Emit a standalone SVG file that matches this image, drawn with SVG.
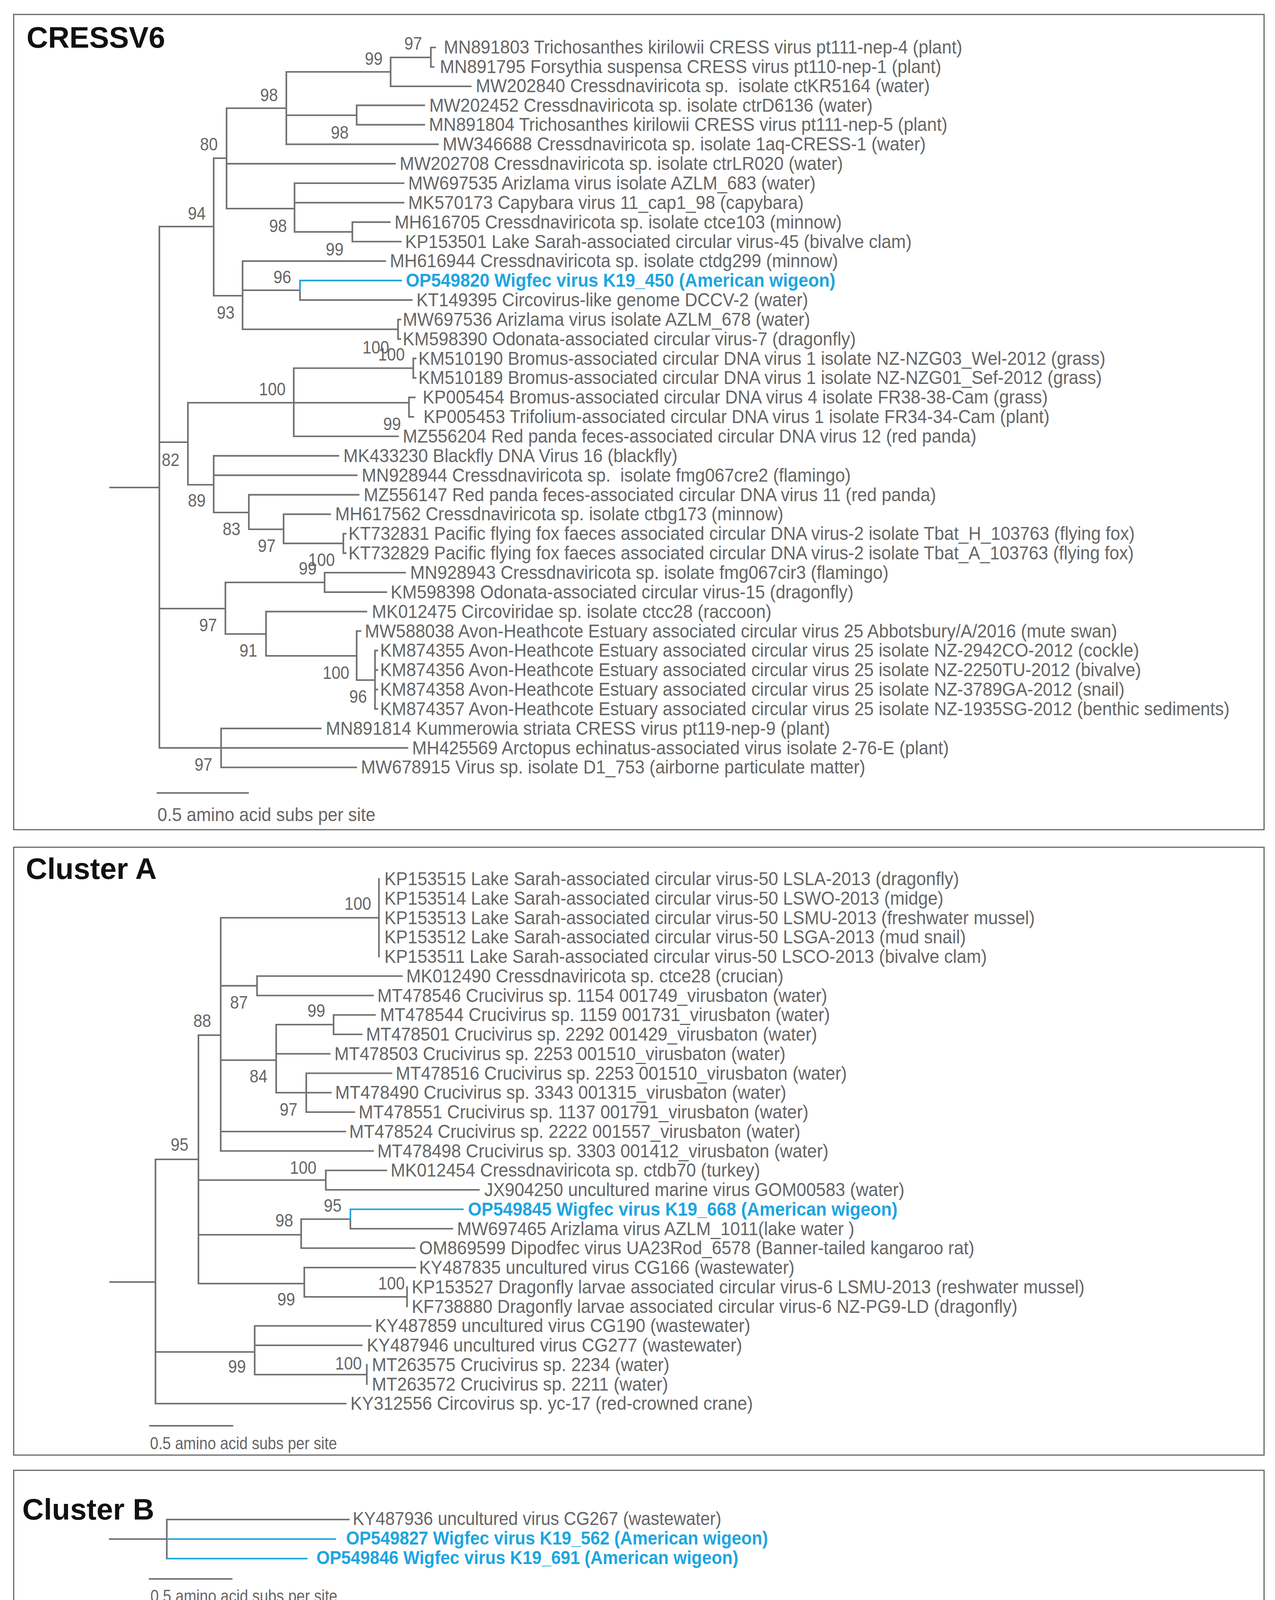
<svg xmlns="http://www.w3.org/2000/svg" width="3264" height="4713" viewBox="0 0 3264 4713">
<style>
.l{font-family:'Liberation Sans',Arial,sans-serif;font-size:49px;fill:#666}
.b{font-family:'Liberation Sans',Arial,sans-serif;font-size:49px;font-weight:bold;fill:#1fa5df}
.s{font-family:'Liberation Sans',Arial,sans-serif;font-size:46px;fill:#666}
.t{font-family:'Liberation Sans',Arial,sans-serif;font-size:76px;font-weight:bold;fill:#111}
.sc{font-family:'Liberation Sans',Arial,sans-serif;font-size:49px;fill:#666}
.sc2{font-family:'Liberation Sans',Arial,sans-serif;font-size:44px;fill:#666}
.fr{fill:none;stroke:#666;stroke-width:3}
.e{fill:none;stroke:#727272;stroke-width:4.2;stroke-linecap:square}
.eb{fill:none;stroke:#1fa5df;stroke-width:4.2;stroke-linecap:square}
</style>
<rect width="3264" height="4713" fill="#fff"/>

<g id="panel-cressv6">
<rect class="fr" x="35" y="37" width="3201" height="2087"/>
<text class="t" x="68" y="122">CRESSV6</text>
<g id="cressv6-connectors">
<path class="e" d="M282,1248H408 M408,580V1914.6 M408,580H547 M408,1132H481 M408,1558H577 M408,1914.6H1043
M547,405V757 M547,405H580 M547,757H621
M580,277V534 M580,277H733 M580,419.1H1011 M580,534H754
M733,184V369.3 M733,184H1000 M733,295H913 M733,369.3H1121
M1000,147V221 M1000,147H1103 M1000,221H1205
M1103,121.5V171.5 M1103,121.5H1114 M1103,171.5H1110
M913,269.6V319.4 M913,269.6H1086 M913,319.4H1086
M754,469V593.6 M754,469H1033 M754,518.8H1033 M754,593.6H902
M902,568.7V618.5 M902,568.7H998 M902,618.5H1026
M621,668.4V843 M621,668.4H986 M621,743H768 M621,843H1019
M768,743V768.1 M768,768.1H1054
M1019,817.9V867.8 M1019,817.9H1025 M1019,867.8H1025
M481,1031V1241 M481,1031H752 M481,1241H547
M752,942.5V1117 M752,942.5H1058 M752,1031H1047 M752,1117H1019
M1058,917.6V967.5 M1058,917.6H1064 M1058,967.5H1064
M1047,1017.3V1067.2 M1047,1017.3H1062 M1047,1067.2H1058
M547,1166.9V1312 M547,1166.9H866 M547,1216.7H913 M547,1312H637
M637,1266.6V1355 M637,1266.6H918 M637,1355H726
M726,1316.4V1391.2 M726,1316.4H845 M726,1391.2H879
M879,1366.3V1416.1 M879,1366.3H885 M879,1416.1H885
M577,1491V1623 M577,1491H831 M577,1623H681
M831,1466V1515.8 M831,1466H1037 M831,1515.8H989
M681,1565.7V1679 M681,1565.7H938 M681,1679H913
M913,1615.5V1741 M913,1615.5H923 M913,1741H960
M960,1665.4V1814.9 M960,1665.4H966 M960,1715.2H966 M960,1765.1H966 M960,1814.9H966
M566,1864.8V1964.5 M566,1864.8H821 M566,1964.5H912"/>
<path class="eb" d="M768,743V718.2H1027"/>
</g>
<g id="cressv6-support" class="s">
<text transform="translate(1035,127) scale(.89,1)">97</text>
<text transform="translate(934,166) scale(.89,1)">99</text>
<text transform="translate(666,259) scale(.89,1)">98</text>
<text transform="translate(847,355) scale(.89,1)">98</text>
<text transform="translate(512,385) scale(.89,1)">80</text>
<text transform="translate(481,562) scale(.89,1)">94</text>
<text transform="translate(689,594) scale(.89,1)">98</text>
<text transform="translate(834,654) scale(.89,1)">99</text>
<text transform="translate(700,725) scale(.89,1)">96</text>
<text transform="translate(555,816) scale(.89,1)">93</text>
<text transform="translate(928,905) scale(.89,1)">100</text>
<text transform="translate(968,923) scale(.89,1)">100</text>
<text transform="translate(663,1012) scale(.89,1)">100</text>
<text transform="translate(981,1101) scale(.89,1)">99</text>
<text transform="translate(414,1193) scale(.89,1)">82</text>
<text transform="translate(481,1297) scale(.89,1)">89</text>
<text transform="translate(570,1370) scale(.89,1)">83</text>
<text transform="translate(660,1413) scale(.89,1)">97</text>
<text transform="translate(789,1449) scale(.89,1)">100</text>
<text transform="translate(765,1471) scale(.89,1)">99</text>
<text transform="translate(510,1616) scale(.89,1)">97</text>
<text transform="translate(613,1681) scale(.89,1)">91</text>
<text transform="translate(826,1738) scale(.89,1)">100</text>
<text transform="translate(894,1799) scale(.89,1)">96</text>
<text transform="translate(498,1973) scale(.89,1)">97</text>
</g>
<g id="cressv6-tips" class="l">
<text id="MN891803" transform="translate(1136,137) scale(.914,1)">MN891803 Trichosanthes kirilowii CRESS virus pt111-nep-4 (plant)</text>
<text id="MN891795" transform="translate(1126,186.5) scale(.914,1)">MN891795 Forsythia suspensa CRESS virus pt110-nep-1 (plant)</text>
<text id="MW202840" transform="translate(1218,236) scale(.914,1)" xml:space="preserve">MW202840 Cressdnaviricota sp.  isolate ctKR5164 (water)</text>
<text id="MW202452" transform="translate(1099,285.55) scale(.914,1)">MW202452 Cressdnaviricota sp. isolate ctrD6136 (water)</text>
<text id="MN891804" transform="translate(1098,335.4) scale(.914,1)">MN891804 Trichosanthes kirilowii CRESS virus pt111-nep-5 (plant)</text>
<text id="MW346688" transform="translate(1133,385.25) scale(.914,1)">MW346688 Cressdnaviricota sp. isolate 1aq-CRESS-1 (water)</text>
<text id="MW202708" transform="translate(1023,435.1) scale(.914,1)">MW202708 Cressdnaviricota sp. isolate ctrLR020 (water)</text>
<text id="MW697535" transform="translate(1045,484.95) scale(.914,1)">MW697535 Arizlama virus isolate AZLM_683 (water)</text>
<text id="MK570173" transform="translate(1045,534.8) scale(.914,1)">MK570173 Capybara virus 11_cap1_98 (capybara)</text>
<text id="MH616705" transform="translate(1010,584.65) scale(.914,1)">MH616705 Cressdnaviricota sp. isolate ctce103 (minnow)</text>
<text id="KP153501" transform="translate(1037,634.5) scale(.914,1)">KP153501 Lake Sarah-associated circular virus-45 (bivalve clam)</text>
<text id="MH616944" transform="translate(998,684.35) scale(.914,1)">MH616944 Cressdnaviricota sp. isolate ctdg299 (minnow)</text>
<text id="OP549820" class="b" transform="translate(1039,734.2) scale(.914,1)">OP549820 Wigfec virus K19_450 (American wigeon)</text>
<text id="KT149395" transform="translate(1066,784.05) scale(.914,1)">KT149395 Circovirus-like genome DCCV-2 (water)</text>
<text id="MW697536" transform="translate(1031,833.9) scale(.914,1)">MW697536 Arizlama virus isolate AZLM_678 (water)</text>
<text id="KM598390" transform="translate(1031,883.75) scale(.914,1)">KM598390 Odonata-associated circular virus-7 (dragonfly)</text>
<text id="KM510190" transform="translate(1071,933.6) scale(.914,1)">KM510190 Bromus-associated circular DNA virus 1 isolate NZ-NZG03_Wel-2012 (grass)</text>
<text id="KM510189" transform="translate(1071,983.45) scale(.914,1)">KM510189 Bromus-associated circular DNA virus 1 isolate NZ-NZG01_Sef-2012 (grass)</text>
<text id="KP005454" transform="translate(1082,1033.3) scale(.914,1)">KP005454 Bromus-associated circular DNA virus 4 isolate FR38-38-Cam (grass)</text>
<text id="KP005453" transform="translate(1084,1083.15) scale(.914,1)">KP005453 Trifolium-associated circular DNA virus 1 isolate FR34-34-Cam (plant)</text>
<text id="MZ556204" transform="translate(1031,1133) scale(.914,1)">MZ556204 Red panda feces-associated circular DNA virus 12 (red panda)</text>
<text id="MK433230" transform="translate(879,1182.85) scale(.914,1)">MK433230 Blackfly DNA Virus 16 (blackfly)</text>
<text id="MN928944" transform="translate(926,1232.7) scale(.914,1)" xml:space="preserve">MN928944 Cressdnaviricota sp.  isolate fmg067cre2 (flamingo)</text>
<text id="MZ556147" transform="translate(931,1282.55) scale(.914,1)">MZ556147 Red panda feces-associated circular DNA virus 11 (red panda)</text>
<text id="MH617562" transform="translate(858,1332.4) scale(.914,1)">MH617562 Cressdnaviricota sp. isolate ctbg173 (minnow)</text>
<text id="KT732831" transform="translate(892,1382.25) scale(.914,1)">KT732831 Pacific flying fox faeces associated circular DNA virus-2 isolate Tbat_H_103763 (flying fox)</text>
<text id="KT732829" transform="translate(892,1432.1) scale(.914,1)">KT732829 Pacific flying fox faeces associated circular DNA virus-2 isolate Tbat_A_103763 (flying fox)</text>
<text id="MN928943" transform="translate(1050,1481.95) scale(.914,1)">MN928943 Cressdnaviricota sp. isolate fmg067cir3 (flamingo)</text>
<text id="KM598398" transform="translate(1000,1531.8) scale(.914,1)">KM598398 Odonata-associated circular virus-15 (dragonfly)</text>
<text id="MK012475" transform="translate(952,1581.65) scale(.914,1)">MK012475 Circoviridae sp. isolate ctcc28 (raccoon)</text>
<text id="MW588038" transform="translate(934,1631.5) scale(.914,1)">MW588038 Avon-Heathcote Estuary associated circular virus 25 Abbotsbury/A/2016 (mute swan)</text>
<text id="KM874355" transform="translate(973,1681.35) scale(.914,1)">KM874355 Avon-Heathcote Estuary associated circular virus 25 isolate NZ-2942CO-2012 (cockle)</text>
<text id="KM874356" transform="translate(973,1731.2) scale(.914,1)">KM874356 Avon-Heathcote Estuary associated circular virus 25 isolate NZ-2250TU-2012 (bivalve)</text>
<text id="KM874358" transform="translate(973,1781.05) scale(.914,1)">KM874358 Avon-Heathcote Estuary associated circular virus 25 isolate NZ-3789GA-2012 (snail)</text>
<text id="KM874357" transform="translate(973,1830.9) scale(.914,1)">KM874357 Avon-Heathcote Estuary associated circular virus 25 isolate NZ-1935SG-2012 (benthic sediments)</text>
<text id="MN891814" transform="translate(834,1880.75) scale(.914,1)">MN891814 Kummerowia striata CRESS virus pt119-nep-9 (plant)</text>
<text id="MH425569" transform="translate(1055,1930.6) scale(.914,1)">MH425569 Arctopus echinatus-associated virus isolate 2-76-E (plant)</text>
<text id="MW678915" transform="translate(924,1980.45) scale(.914,1)">MW678915 Virus sp. isolate D1_753 (airborne particulate matter)</text>
</g>
<g id="cressv6-scale">
<path class="e" d="M403,2030H635"/>
<text class="sc" transform="translate(403,2102) scale(.915,1)">0.5 amino acid subs per site</text>
</g>
</g>

<g id="panel-cluster-a">
<rect class="fr" x="35" y="2169" width="3201" height="1556"/>
<text class="t" x="66" y="2250">Cluster A</text>
<g id="cluster-a-connectors">
<path class="e" d="M282,3282H398 M398,2968V3593.25 M398,2968H508 M398,3461H652 M398,3593.25H885
M508,2650V3286 M508,2650H565 M508,3021H834 M508,3161H771 M508,3286H779
M565,2349.5V2946.5 M565,2349.5H970 M565,2523.6H658 M565,2714H707 M565,2896.75H884 M565,2946.5H955
M970,2250V2449
M658,2498.75V2548.5 M658,2498.75H1029 M658,2548.5H955
M707,2623V2797.25 M707,2623H854 M707,2697.75H844 M707,2797.25H847
M854,2598.25V2648 M854,2598.25H960 M854,2648H926
M784,2747.5V2847 M784,2747.5H1002 M784,2847H907
M834,2996.25V3046 M834,2996.25H989 M834,3046H1226
M771,3121V3195.25 M771,3121H897 M771,3195.25H1061
M897,3121V3145.5 M897,3145.5H1158
M779,3245V3320 M779,3245H1063 M779,3320H1042
M1042,3294.75V3344.5
M652,3394.25V3519 M652,3394.25H949 M652,3444H926 M652,3519H939
M939,3493.75V3543.5"/>
<path class="eb" d="M897,3121V3095.75H1185"/>
</g>
<g id="cluster-a-support" class="s">
<text transform="translate(882,2329) scale(.89,1)">100</text>
<text transform="translate(589,2582) scale(.89,1)">87</text>
<text transform="translate(495,2629) scale(.89,1)">88</text>
<text transform="translate(787,2603) scale(.89,1)">99</text>
<text transform="translate(639,2771) scale(.89,1)">84</text>
<text transform="translate(716,2856) scale(.89,1)">97</text>
<text transform="translate(437,2946) scale(.89,1)">95</text>
<text transform="translate(742,3005) scale(.89,1)">100</text>
<text transform="translate(829,3102) scale(.89,1)">95</text>
<text transform="translate(705,3140) scale(.89,1)">98</text>
<text transform="translate(968,3301) scale(.89,1)">100</text>
<text transform="translate(710,3342) scale(.89,1)">99</text>
<text transform="translate(858,3506) scale(.89,1)">100</text>
<text transform="translate(584,3514) scale(.89,1)">99</text>
</g>
<g id="cluster-a-tips" class="l">
<text id="KP153515" transform="translate(984,2266) scale(.914,1)">KP153515 Lake Sarah-associated circular virus-50 LSLA-2013 (dragonfly)</text>
<text id="KP153514" transform="translate(984,2315.75) scale(.914,1)">KP153514 Lake Sarah-associated circular virus-50 LSWO-2013 (midge)</text>
<text id="KP153513" transform="translate(984,2365.5) scale(.914,1)">KP153513 Lake Sarah-associated circular virus-50 LSMU-2013 (freshwater mussel)</text>
<text id="KP153512" transform="translate(984,2415.25) scale(.914,1)">KP153512 Lake Sarah-associated circular virus-50 LSGA-2013 (mud snail)</text>
<text id="KP153511" transform="translate(984,2465) scale(.914,1)">KP153511 Lake Sarah-associated circular virus-50 LSCO-2013 (bivalve clam)</text>
<text id="MK012490" transform="translate(1040,2514.75) scale(.914,1)">MK012490 Cressdnaviricota sp. ctce28 (crucian)</text>
<text id="MT478546" transform="translate(966,2564.5) scale(.914,1)">MT478546 Crucivirus sp. 1154 001749_virusbaton (water)</text>
<text id="MT478544" transform="translate(973,2614.25) scale(.914,1)">MT478544 Crucivirus sp. 1159 001731_virusbaton (water)</text>
<text id="MT478501" transform="translate(937,2664) scale(.914,1)">MT478501 Crucivirus sp. 2292 001429_virusbaton (water)</text>
<text id="MT478503" transform="translate(856,2713.75) scale(.914,1)">MT478503 Crucivirus sp. 2253 001510_virusbaton (water)</text>
<text id="MT478516" transform="translate(1013,2763.5) scale(.914,1)">MT478516 Crucivirus sp. 2253 001510_virusbaton (water)</text>
<text id="MT478490" transform="translate(858,2813.25) scale(.914,1)">MT478490 Crucivirus sp. 3343 001315_virusbaton (water)</text>
<text id="MT478551" transform="translate(918,2863) scale(.914,1)">MT478551 Crucivirus sp. 1137 001791_virusbaton (water)</text>
<text id="MT478524" transform="translate(894,2912.75) scale(.914,1)">MT478524 Crucivirus sp. 2222 001557_virusbaton (water)</text>
<text id="MT478498" transform="translate(966,2962.5) scale(.914,1)">MT478498 Crucivirus sp. 3303 001412_virusbaton (water)</text>
<text id="MK012454" transform="translate(1000,3012.25) scale(.914,1)">MK012454 Cressdnaviricota sp. ctdb70 (turkey)</text>
<text id="JX904250" transform="translate(1240,3062) scale(.914,1)">JX904250 uncultured marine virus GOM00583 (water)</text>
<text id="OP549845" class="b" transform="translate(1198,3111.75) scale(.914,1)">OP549845 Wigfec virus K19_668 (American wigeon)</text>
<text id="MW697465" transform="translate(1170,3161.5) scale(.914,1)">MW697465 Arizlama virus AZLM_1011(lake water )</text>
<text id="OM869599" transform="translate(1073,3211.25) scale(.914,1)">OM869599 Dipodfec virus UA23Rod_6578 (Banner-tailed kangaroo rat)</text>
<text id="KY487835" transform="translate(1073,3261) scale(.914,1)">KY487835 uncultured virus CG166 (wastewater)</text>
<text id="KP153527" transform="translate(1054,3310.75) scale(.914,1)">KP153527 Dragonfly larvae associated circular virus-6 LSMU-2013 (reshwater mussel)</text>
<text id="KF738880" transform="translate(1054,3360.5) scale(.914,1)">KF738880 Dragonfly larvae associated circular virus-6 NZ-PG9-LD (dragonfly)</text>
<text id="KY487859" transform="translate(960,3410.25) scale(.914,1)">KY487859 uncultured virus CG190 (wastewater)</text>
<text id="KY487946" transform="translate(939,3460) scale(.914,1)">KY487946 uncultured virus CG277 (wastewater)</text>
<text id="MT263575" transform="translate(952,3509.75) scale(.914,1)">MT263575 Crucivirus sp. 2234 (water)</text>
<text id="MT263572" transform="translate(952,3559.5) scale(.914,1)">MT263572 Crucivirus sp. 2211 (water)</text>
<text id="KY312556" transform="translate(897,3609.25) scale(.914,1)">KY312556 Circovirus sp. yc-17 (red-crowned crane)</text>
</g>
<g id="cluster-a-scale">
<path class="e" d="M384,3650H595"/>
<text class="sc2" transform="translate(384,3710) scale(.874,1)">0.5 amino acid subs per site</text>
</g>
</g>

<g id="panel-cluster-b">
<rect class="fr" x="35" y="3764" width="3201" height="360"/>
<text class="t" x="57" y="3890">Cluster B</text>
<g id="cluster-b-connectors">
<path class="e" d="M281,3940H427 M427,3890V3990 M427,3890H893"/>
<path class="eb" d="M429,3940H858 M429,3990H785"/>
</g>
<g id="cluster-b-tips">
<text id="KY487936" class="l" transform="translate(903,3904) scale(.898,1)">KY487936 uncultured virus CG267 (wastewater)</text>
<text id="OP549827" class="b" transform="translate(886,3954) scale(.898,1)">OP549827 Wigfec virus K19_562 (American wigeon)</text>
<text id="OP549846" class="b" transform="translate(810,4004) scale(.898,1)">OP549846 Wigfec virus K19_691 (American wigeon)</text>
</g>
<g id="cluster-b-scale">
<path class="e" d="M383,4042H593"/>
<text class="sc2" transform="translate(385,4101) scale(.874,1)">0.5 amino acid subs per site</text>
</g>
</g>

<g id="panel-cluster-c">
<rect class="fr" x="35" y="4165" width="3201" height="521"/>
<text class="t" x="58" y="4263">Cluster C</text>
<g id="cluster-c-connectors">
<path class="e" d="M282,4357H417 M417,4264V4451 M417,4264H747 M417,4339H638 M417,4451H675
M638,4339V4362 M638,4362H760
M675,4407V4488 M675,4407H690 M675,4488H712
M712,4462V4515"/>
<path class="eb" d="M638,4339V4313H849"/>
</g>
<g id="cluster-c-support" class="s">
<text transform="translate(570,4317) scale(.89,1)">99</text>
<text transform="translate(585,4507) scale(.89,1)">100</text>
<text transform="translate(645,4545) scale(.89,1)">96</text>
</g>
<g id="cluster-c-tips" class="l">
<text id="MW697595" transform="translate(759,4279) scale(.914,1)">MW697595 Arizlama virus AZLM_398 (water)</text>
<text id="OP549840" class="b" transform="translate(874,4328) scale(.914,1)">OP549840 Wigfec virus K19_571 (American wigeon)</text>
<text id="MW678878" transform="translate(771,4377) scale(.914,1)">MW678878 Virus sp. D12_1244 (Airborne particulate matter)</text>
<text id="KM598403" transform="translate(700,4426) scale(.914,1)">KM598403 Odonata-associated circular virus-18 OdasCV-18-US-1736LM2-12 (dragonfly)</text>
<text id="KM598402" transform="translate(727,4476) scale(.914,1)">KM598402 Odonata-associated circular virus-18 OdasCV-18-US-1736LM1-12 (dragonfly)</text>
<text id="KM598401" transform="translate(727,4526) scale(.914,1)">KM598401 Odonata-associated circular virus-18 OdasCV-18-US-1735LM1-12 (dragonfly)</text>
</g>
<g id="cluster-c-scale">
<path class="e" d="M383,4582H594"/>
<text class="sc2" transform="translate(385,4642) scale(.874,1)">0.5 amino acid subs per site</text>
</g>
</g>
</svg>
